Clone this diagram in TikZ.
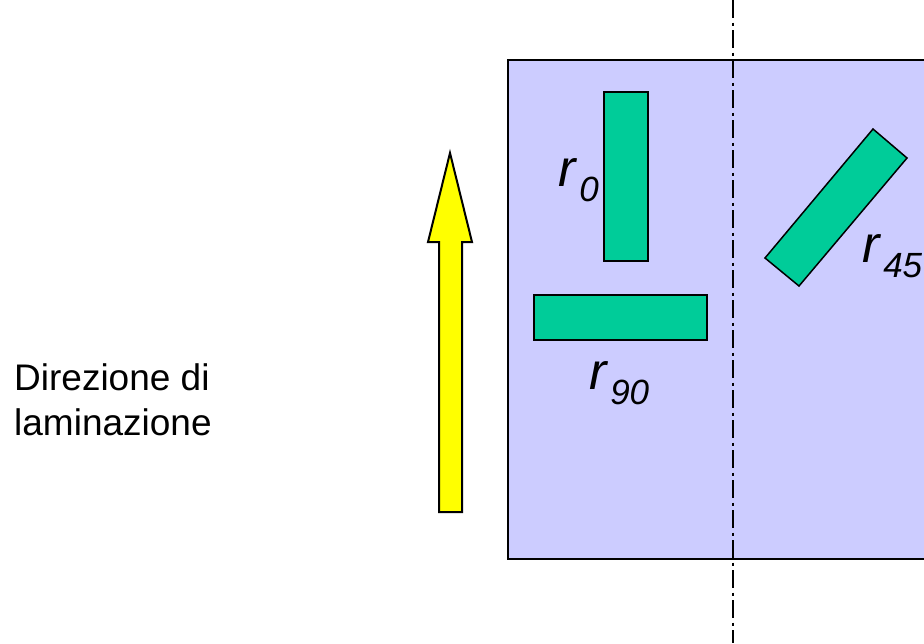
\documentclass[tikz,border=0pt]{standalone}
\usepackage{fontspec}
\setmainfont{Liberation Sans}
\definecolor{platecol}{HTML}{CCCCFF}
\definecolor{samplecol}{HTML}{00CC99}
\definecolor{arrowcol}{HTML}{FFFF00}
\newcommand{\rsub}[1]{\textit{r}\hspace{2pt}\raisebox{-15pt}{\fontsize{35}{35}\selectfont\textit{#1}}}
\begin{document}
\begin{tikzpicture}[x=1pt,y=-1pt,
  platebox/.style={fill=platecol,draw=black,line width=2pt},
  samplebox/.style={fill=samplecol,draw=black,line width=1.5pt,line join=miter},
  axisline/.style={line width=2pt,dash pattern=on 18pt off 4.5pt on 3pt off 4.5pt},
  rollarrow/.style={fill=arrowcol,draw=black,line width=2pt,line join=miter},
  rlabel/.style={anchor=base west,inner sep=0pt,font=\fontsize{52}{52}\selectfont},
  textlabel/.style={anchor=base west,inner sep=0pt,font=\fontsize{37}{44}\selectfont}]
\useasboundingbox (0,0) rectangle (924,643);
\clip (0,0) rectangle (924,643);
% plate
\draw[platebox] (508,60) rectangle (940,559);
% specimens
\draw[samplebox] (604,92) rectangle (648,261);
\draw[samplebox] (534,295) rectangle (707,340);
\draw[samplebox] (873,129) -- (907,158) -- (799,286) -- (765,258) -- cycle;
% symmetry axis
\draw[axisline] (733,0) -- (733,643);
% rolling direction arrow
\draw[rollarrow] (439,512) -- (462,512) -- (462,242) -- (472,242) -- (450,153)
  -- (428,242) -- (439,242) -- cycle;
% labels
\node[rlabel] (r0) at (558,186) {\rsub{0}};
\node[rlabel] (r90) at (589,389) {\rsub{90}};
\node[rlabel] (r45) at (862,262) {\rsub{45}};
\node[textlabel] (dir1) at (14,390) {Direzione di};
\node[textlabel] (dir2) at (14,435) {laminazione};
\end{tikzpicture}
\end{document}
